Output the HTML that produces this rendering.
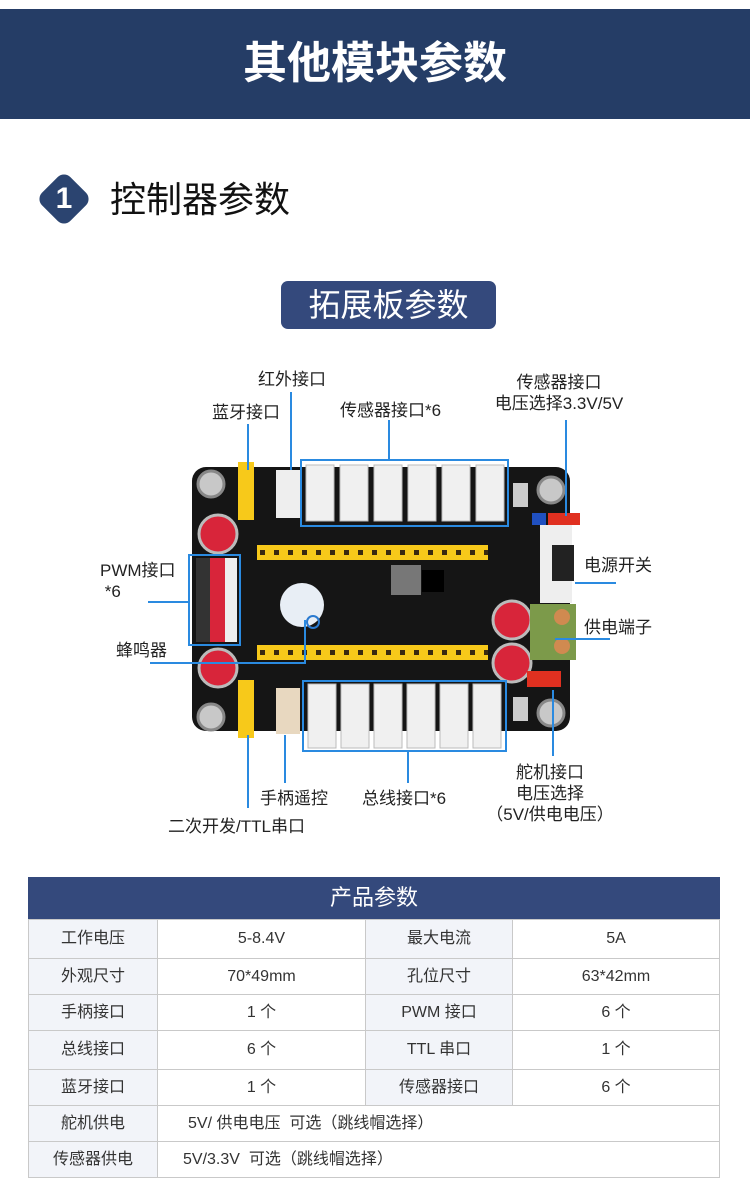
<!DOCTYPE html>
<html><head><meta charset="utf-8"><style>
body{margin:0;width:750px;height:1181px;background:#fff;position:relative;overflow:hidden;font-family:"Liberation Sans","Noto Sans CJK SC",sans-serif;}
.a{position:absolute;white-space:nowrap;}
.l{position:absolute;font-size:17px;color:#222;line-height:21px;text-align:center;white-space:nowrap;}
table{position:absolute;left:28px;top:919px;width:692px;border-collapse:collapse;font-size:16px;color:#333;}
td{border:1px solid #c9c9c9;text-align:center;padding:0;line-height:20px;vertical-align:middle;}
td.k{background:#f2f4f9;}
</style></head><body>
<div class="a" style="left:0;top:9px;width:750px;height:110px;background:#253d66;"></div>
<div class="a" style="left:0;top:36px;width:750px;text-align:center;color:#fff;font-size:44px;font-weight:bold;line-height:56px;">其他模块参数</div>
<div class="a" style="left:44px;top:179px;width:40px;height:40px;background:#2b4470;border-radius:9px;transform:rotate(45deg);"></div>
<div class="a" style="left:44px;top:178px;width:40px;text-align:center;color:#fff;font-size:30px;font-weight:bold;line-height:42px;">1</div>
<div class="a" style="left:110px;top:178px;font-size:36px;color:#111;line-height:44px;">控制器参数</div>
<div class="a" style="left:281px;top:281px;width:215px;height:48px;background:#34497c;border-radius:7px;color:#fff;font-size:32px;text-align:center;line-height:48px;">拓展板参数</div>

<svg class="a" style="left:0;top:0" width="750" height="870">
<rect x="192" y="467" width="378" height="264" rx="14" fill="#151515"/>
<g fill="#c8c8c8" stroke="#888" stroke-width="3"><circle cx="211" cy="484" r="13"/><circle cx="551" cy="490" r="13"/><circle cx="211" cy="717" r="13"/><circle cx="551" cy="713" r="13"/></g>
<g fill="#f7c91a"><rect x="238" y="462" width="16" height="58"/><rect x="257" y="545" width="231" height="15"/><rect x="257" y="645" width="231" height="15"/><rect x="238" y="680" width="16" height="58"/></g>
<g stroke="#3a2a10" stroke-width="5" stroke-dasharray="5 9"><path d="M260 552.5H488M260 652.5H488"/></g>
<rect x="276" y="470" width="24" height="48" fill="#eee"/>
<g fill="#f0f0f0" stroke="#bbb"><rect x="306" y="465" width="28" height="56"/><rect x="340" y="465" width="28" height="56"/><rect x="374" y="465" width="28" height="56"/><rect x="408" y="465" width="28" height="56"/><rect x="442" y="465" width="28" height="56"/><rect x="476" y="465" width="28" height="56"/></g>
<g fill="#f0f0f0" stroke="#bbb"><rect x="308" y="684" width="28" height="64"/><rect x="341" y="684" width="28" height="64"/><rect x="374" y="684" width="28" height="64"/><rect x="407" y="684" width="28" height="64"/><rect x="440" y="684" width="28" height="64"/><rect x="473" y="684" width="28" height="64"/></g>
<rect x="276" y="688" width="24" height="46" fill="#e8d8c0"/>
<rect x="196" y="558" width="14" height="84" fill="#333"/>
<rect x="210" y="558" width="15" height="84" fill="#d8253a"/><rect x="225" y="558" width="12" height="84" fill="#eee"/>
<g fill="#d8253a" stroke="#bbb" stroke-width="3"><circle cx="218" cy="534" r="19"/><circle cx="218" cy="668" r="19"/><circle cx="512" cy="620" r="19"/><circle cx="512" cy="663" r="19"/></g>
<circle cx="302" cy="605" r="22" fill="#e8eef5"/><circle cx="313" cy="622" r="6" fill="none" stroke="#2a7ad0" stroke-width="2"/>
<rect x="391" y="565" width="30" height="30" fill="#777"/>
<rect x="422" y="570" width="22" height="22" fill="#000"/>
<rect x="540" y="525" width="32" height="78" fill="#eee"/><rect x="552" y="545" width="22" height="36" fill="#222"/>
<rect x="530" y="604" width="46" height="56" fill="#7c9a4a"/><circle cx="562" cy="617" r="8" fill="#d08a50"/><circle cx="562" cy="646" r="8" fill="#d08a50"/>
<rect x="548" y="513" width="32" height="12" fill="#e03020"/><rect x="532" y="513" width="14" height="12" fill="#2050c0"/>
<rect x="527" y="671" width="34" height="16" fill="#e03020"/>
<rect x="513" y="483" width="15" height="24" fill="#ccc"/><rect x="513" y="697" width="15" height="24" fill="#ccc"/>
<g fill="none" stroke="#2a8ae0" stroke-width="2">
<rect x="301" y="460" width="207" height="66"/><rect x="303" y="681" width="203" height="70"/><rect x="189" y="555" width="51" height="90"/>
<path d="M291 392V470M248 424V470M389 420V460M566 420V516M575 583H616M555 639H610M148 602H189M150 663H305V620M248 735V808M285 735V783M408 752V783M553 690V756"/>
</g>
</svg>
<div class="l" style="left:258px;top:369px;">红外接口</div>
<div class="l" style="left:212px;top:402px;">蓝牙接口</div>
<div class="l" style="left:340px;top:400px;">传感器接口*6</div>
<div class="l" style="left:484px;top:372px;width:150px;">传感器接口<br>电压选择3.3V/5V</div>
<div class="l" style="left:584px;top:555px;">电源开关</div>
<div class="l" style="left:584px;top:617px;">供电端子</div>
<div class="l" style="left:100px;top:560px;text-align:left;">PWM接口<br>&nbsp;*6</div>
<div class="l" style="left:116px;top:640px;">蜂鸣器</div>
<div class="l" style="left:260px;top:788px;">手柄遥控</div>
<div class="l" style="left:362px;top:788px;">总线接口*6</div>
<div class="l" style="left:168px;top:816px;">二次开发/TTL串口</div>
<div class="l" style="left:480px;top:762px;width:140px;">舵机接口<br>电压选择<br>（5V/供电电压）</div>

<div class="a" style="left:28px;top:877px;width:692px;height:42px;background:#34497c;color:#fff;font-size:22px;text-align:center;line-height:42px;">产品参数</div>
<table>
<tr style="height:39px"><td class="k" style="width:128px">工作电压</td><td style="width:207px">5-8.4V</td><td class="k" style="width:146px">最大电流</td><td>5A</td></tr>
<tr style="height:36px"><td class="k">外观尺寸</td><td>70*49mm</td><td class="k">孔位尺寸</td><td>63*42mm</td></tr>
<tr style="height:36px"><td class="k">手柄接口</td><td>1 个</td><td class="k">PWM 接口</td><td>6 个</td></tr>
<tr style="height:39px"><td class="k">总线接口</td><td>6 个</td><td class="k">TTL 串口</td><td>1 个</td></tr>
<tr style="height:36px"><td class="k">蓝牙接口</td><td>1 个</td><td class="k">传感器接口</td><td>6 个</td></tr>
<tr style="height:36px"><td class="k">舵机供电</td><td colspan="3" style="text-align:left;padding-left:30px">5V/ 供电电压&nbsp; 可选（跳线帽选择）</td></tr>
<tr style="height:36px"><td class="k">传感器供电</td><td colspan="3" style="text-align:left;padding-left:25px">5V/3.3V&nbsp; 可选（跳线帽选择）</td></tr>
</table>
</body></html>
